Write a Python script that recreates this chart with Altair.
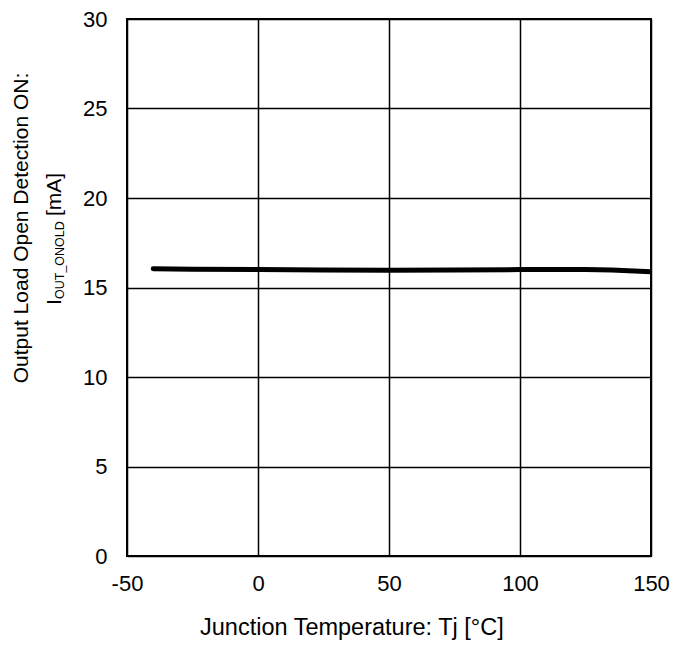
import altair as alt
import pandas as pd

# Data
tj = [-40, -25, 0, 25, 50, 75, 100, 125, 135, 150]
iout = [16.05, 16.02, 16.0, 15.98, 15.97, 15.98, 16.0, 16.0, 15.98, 15.88]
x_ticks = [-50, 0, 50, 100, 150]
y_ticks = [0, 5, 10, 15, 20, 25, 30]

FONT = "Liberation Sans"
FS = 22
W, H = 524, 537

df = pd.DataFrame({"tj": tj, "iout": iout})

x_enc = alt.X("tj:Q", scale=alt.Scale(domain=[-50, 150], nice=False),
              axis=alt.Axis(values=x_ticks, title=None, grid=True, gridColor="black",
                            gridWidth=1.5, gridOpacity=1, ticks=False, domain=False,
                            labelExpr="'' + datum.value",
                            labelFont=FONT, labelFontSize=FS, labelColor="black",
                            labelPadding=17, labelFlush=False))
y_enc = alt.Y("iout:Q", scale=alt.Scale(domain=[0, 30], nice=False),
              axis=alt.Axis(values=y_ticks, title=None, grid=True, gridColor="black",
                            gridWidth=1.5, gridOpacity=1, ticks=False, domain=False,
                            labelFont=FONT, labelFontSize=FS, labelColor="black",
                            labelPadding=20, labelFlush=False))

line = alt.Chart(df).mark_line(color="black", strokeWidth=5, strokeCap="round",
                               strokeJoin="round", clip=True).encode(x=x_enc, y=y_enc)

TOP = 19  # page y of plot top

title_df = pd.DataFrame({"t": ["Junction Temperature: Tj [°C]"]})
xtitle = alt.Chart(title_df).mark_text(font=FONT, fontSize=23.5, color="black",
                                       align="left", baseline="alphabetic").encode(
    x=alt.value(200 - 127), y=alt.value(635 - TOP), text="t:N")

l1_df = pd.DataFrame({"t": ["Output Load Open Detection ON:"]})
ytitle1 = alt.Chart(l1_df).mark_text(font=FONT, fontSize=21, color="black", angle=270,
                                     align="center", baseline="alphabetic").encode(
    x=alt.value(28 - 127), y=alt.value(228 - TOP), text="t:N")

i_df = pd.DataFrame({"t": ["I"]})
ytitle2a = alt.Chart(i_df).mark_text(font=FONT, fontSize=21, color="black", angle=270,
                                     align="left", baseline="alphabetic").encode(
    x=alt.value(61 - 127), y=alt.value(305 - TOP), text="t:N")
sub_df = pd.DataFrame({"t": ["OUT_ONOLD"]})
ytitle2b = alt.Chart(sub_df).mark_text(font=FONT, fontSize=12.5, color="black", angle=270,
                                       align="left", baseline="alphabetic").encode(
    x=alt.value(64 - 127), y=alt.value(299 - TOP), text="t:N")
ma_df = pd.DataFrame({"t": ["[mA]"]})
ytitle2c = alt.Chart(ma_df).mark_text(font=FONT, fontSize=21, color="black", angle=270,
                                      align="left", baseline="alphabetic").encode(
    x=alt.value(61 - 127), y=alt.value(216 - TOP), text="t:N")

chart = alt.layer(line, xtitle, ytitle1, ytitle2a, ytitle2b, ytitle2c).properties(
    width=W, height=H,
    autosize=alt.AutoSizeParams(type="none"),
    padding={"left": 119, "top": 11, "right": 30, "bottom": 92},
    background="white",
).configure_view(stroke="black", strokeWidth=2)

chart.save("out.html", embed_options={"renderer": "svg", "actions": False})
